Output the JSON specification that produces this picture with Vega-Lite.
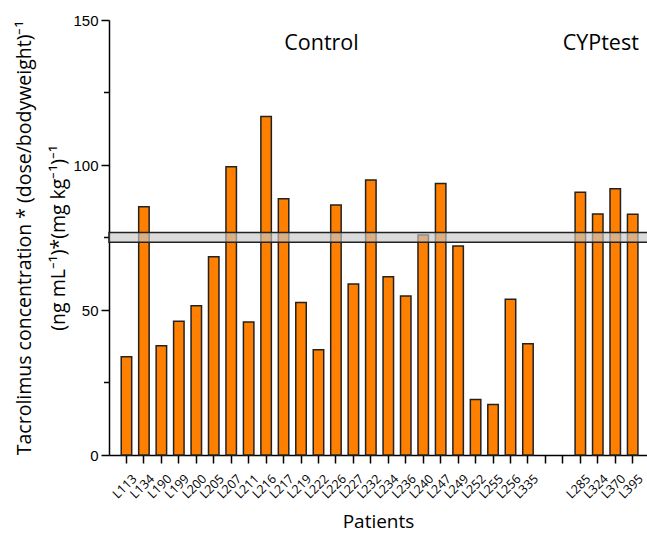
{
  "$schema": "https://vega.github.io/schema/vega-lite/v6.json",
  "width": 538,
  "height": 435,
  "autosize": "none",
  "padding": {"left": 109, "top": 20, "right": 0, "bottom": 81},
  "background": "white",
  "config": {"view": {"stroke": null}},
  "datasets": {
    "bars": [
      {"patient": "L113", "value": 33.9},
      {"patient": "L134", "value": 85.6},
      {"patient": "L190", "value": 37.7},
      {"patient": "L199", "value": 46.1},
      {"patient": "L200", "value": 51.5},
      {"patient": "L205", "value": 68.4},
      {"patient": "L207", "value": 99.4},
      {"patient": "L211", "value": 45.9},
      {"patient": "L216", "value": 116.7},
      {"patient": "L217", "value": 88.4},
      {"patient": "L219", "value": 52.6},
      {"patient": "L222", "value": 36.3},
      {"patient": "L226", "value": 86.2},
      {"patient": "L227", "value": 59.0},
      {"patient": "L232", "value": 94.8},
      {"patient": "L234", "value": 61.5},
      {"patient": "L236", "value": 54.8},
      {"patient": "L240", "value": 75.9},
      {"patient": "L247", "value": 93.6},
      {"patient": "L249", "value": 72.1},
      {"patient": "L252", "value": 19.1},
      {"patient": "L255", "value": 17.4},
      {"patient": "L256", "value": 53.7},
      {"patient": "L335", "value": 38.4},
      {"patient": "L285", "value": 90.6},
      {"patient": "L324", "value": 83.1},
      {"patient": "L370", "value": 91.8},
      {"patient": "L395", "value": 83.0}
    ],
    "band": [{"low": 73.4, "high": 76.7}],
    "minor": [{"v": 25}, {"v": 75}, {"v": 125}],
    "groups": [
      {"label": "Control", "patient": "L222", "value": 139.7},
      {"label": "CYPtest", "patient": "L324", "value": 139.7}
    ]
  },
  "encoding": {
    "x": {
      "field": "patient",
      "type": "nominal",
      "scale": {
        "domain": ["L113","L134","L190","L199","L200","L205","L207","L211","L216","L217","L219","L222","L226","L227","L232","L234","L236","L240","L247","L249","L252","L255","L256","L335","_1","_2","L285","L324","L370","L395"],
        "paddingInner": 0,
        "paddingOuter": 0.41,
        "align": 0.61
      },
      "axis": {
        "title": "Patients",
        "titleFont": "Open Sans",
        "titleFontSize": 19,
        "titleFontWeight": "normal",
        "titleColor": "#000",
        "titlePadding": 12,
        "labelFont": "Open Sans",
        "labelFontSize": 12.5,
        "labelColor": "#000",
        "labelAngle": -45,
        "labelAlign": "right",
        "labelBaseline": "top",
        "labelPadding": 9,
        "labelOffset": 4,
        "labelExpr": "indexof(datum.value, '_') == 0 ? '' : datum.value",
        "tickColor": "#000",
        "tickWidth": 1.5,
        "tickSize": 8,
        "domainColor": "#000",
        "domainWidth": 1.5,
        "grid": false
      }
    }
  },
  "layer": [
    {
      "data": {"name": "bars"},
      "mark": {"type": "bar", "width": {"band": 0.6}, "fill": "#ff8000", "stroke": "#222", "strokeWidth": 1.5},
      "encoding": {
        "y": {
          "field": "value",
          "type": "quantitative",
          "scale": {"domain": [0, 150], "nice": false},
          "axis": {
            "title": ["Tacrolimus concentration * (dose/bodyweight)⁻¹", "(ng mL⁻¹)*(mg kg⁻¹)⁻¹"],
            "titleFont": "Open Sans",
            "titleFontSize": 19.5,
            "titleFontWeight": "normal",
            "titleColor": "#000",
            "titleLineHeight": 34,
            "titlePadding": 4,
            "values": [0, 50, 100, 150],
            "labelFont": "Liberation Sans",
            "labelFontSize": 15,
            "labelColor": "#000",
            "labelPadding": 3,
            "tickColor": "#000",
            "tickWidth": 1.5,
            "tickSize": 8,
            "domainColor": "#000",
            "domainWidth": 1.5,
            "grid": false
          }
        }
      }
    },
    {
      "data": {"name": "minor"},
      "mark": {"type": "rule", "color": "#000", "strokeWidth": 1.5, "clip": false},
      "encoding": {
        "x": {"value": -5},
        "x2": {"value": 0},
        "y": {"field": "v", "type": "quantitative"}
      }
    },
    {
      "data": {"name": "band"},
      "mark": {"type": "rect", "fill": "#c8c8c8", "fillOpacity": 0.65, "stroke": "#222", "strokeWidth": 1.5},
      "encoding": {
        "x": {"value": 0},
        "x2": {"value": 545},
        "y": {"field": "low", "type": "quantitative"},
        "y2": {"field": "high"}
      }
    },
    {
      "data": {"name": "groups"},
      "mark": {"type": "text", "font": "Open Sans", "fontSize": 21.5, "color": "#000", "baseline": "alphabetic", "align": "center", "dx": 3},
      "encoding": {
        "x": {"field": "patient", "type": "nominal"},
        "y": {"field": "value", "type": "quantitative"},
        "text": {"field": "label"}
      }
    }
  ]
}
